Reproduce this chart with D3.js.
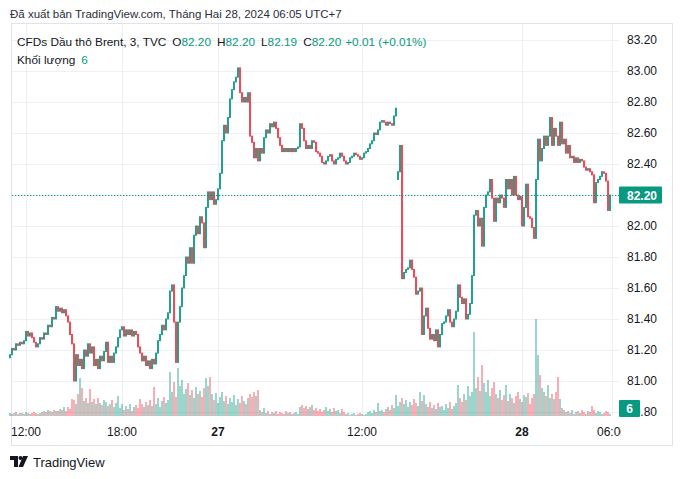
<!DOCTYPE html>
<html><head><meta charset="utf-8">
<script src="https://cdn.jsdelivr.net/npm/d3@7"></script>
<style>
body{margin:0;background:#fff}
svg{display:block;font-family:"Liberation Sans",Arial,sans-serif}
</style>
</head><body>
<svg id="c" width="682" height="479"></svg>
<script>
// ---- data (3-min Brent CFD, sampled) ----
const closes = [
81.17,81.21,81.20,81.24,81.23,81.25,81.24,81.26,81.32,81.29,81.31,81.28,81.25,81.22,81.24,81.28,81.27,
81.31,81.30,81.36,81.35,81.41,81.40,81.48,81.45,81.47,81.44,81.46,81.42,81.38,81.30,
81.24,81.00,81.17,81.10,81.14,81.08,81.20,81.16,81.24,81.18,81.22,81.10,81.14,81.08,81.16,
81.13,81.19,81.25,81.12,81.16,81.12,81.18,81.22,81.28,81.33,81.35,81.29,81.33,81.30,81.33,
81.29,81.32,81.30,81.22,81.18,81.13,81.16,81.10,81.13,81.08,81.14,81.11,81.18,81.26,81.30,
81.36,81.33,81.40,81.44,81.58,81.62,81.38,81.12,81.38,81.48,81.60,81.68,81.80,81.76,81.86,
81.76,81.94,82.00,81.95,82.06,82.02,81.86,82.12,82.22,82.17,82.22,82.14,82.17,82.24,82.34,
82.55,82.65,82.60,82.70,82.82,82.88,82.93,82.96,83.02,82.86,82.80,82.83,82.80,82.86,82.58,
82.54,82.44,82.50,82.42,82.50,82.47,82.57,82.62,82.60,82.66,82.64,82.67,82.63,82.57,82.52,
82.48,82.50,82.48,82.50,82.48,82.50,82.48,82.50,82.51,82.66,82.63,82.55,82.50,82.52,82.50,
82.55,82.54,82.48,82.47,82.45,82.41,82.40,82.42,82.45,82.46,82.42,82.40,82.43,82.44,82.47,
82.45,82.42,82.40,82.41,82.44,82.45,82.47,82.46,82.45,82.43,82.44,82.47,82.48,82.50,82.53,
82.55,82.60,82.59,82.62,82.67,82.68,82.67,82.65,82.67,82.66,82.65,82.71,82.76,82.35,82.52,
81.66,81.70,81.72,81.73,81.78,81.72,81.67,81.56,81.58,81.60,81.30,81.42,81.47,81.34,81.27,
81.30,81.26,81.33,81.22,81.30,81.37,81.38,81.42,81.46,81.38,81.35,81.40,81.45,81.62,81.54,
81.50,81.53,81.40,81.43,81.50,81.68,82.07,82.10,82.00,82.05,81.87,82.12,82.20,82.22,82.30,
82.18,82.03,82.18,82.15,82.20,82.18,82.12,82.30,82.24,82.30,82.20,82.32,82.20,82.17,82.19,
82.00,82.12,82.27,82.06,82.05,81.99,81.92,82.30,82.56,82.42,82.50,82.58,82.52,82.58,82.70,
82.52,82.63,82.58,82.52,82.67,82.53,82.56,82.47,82.52,82.44,82.45,82.41,82.44,82.41,82.43,
82.42,82.38,82.36,82.37,82.35,82.33,82.15,82.28,82.30,82.32,82.35,82.34,82.29,82.10,82.20
];
const firstOpen = 81.15;
const openOverrides = {194: 82.30}; // session restart after the break
const volumes = [
9,6,9,12,6,9,9,6,12,9,6,9,12,9,6,9,12,
15,12,18,15,12,18,15,15,21,18,27,15,27,21,
51,48,36,66,114,84,45,54,39,81,42,51,36,54,39,
33,48,42,30,36,48,27,39,60,24,36,18,30,21,36,
15,27,33,24,51,36,27,42,33,48,30,87,36,54,27,
45,57,39,48,132,72,102,57,144,90,108,66,81,99,63,
78,54,87,66,75,57,84,114,90,117,66,48,69,39,57,
72,45,60,36,54,42,63,33,51,39,60,45,36,54,66,
57,72,60,78,18,12,24,9,15,6,12,9,15,6,12,
9,6,15,9,12,6,9,12,6,27,33,24,30,21,27,
33,18,24,15,21,12,18,27,15,21,12,24,15,18,9,
21,12,6,9,3,6,9,3,6,9,6,3,6,12,15,
9,18,12,39,15,18,12,21,27,18,33,24,63,30,42,
54,36,48,27,42,33,51,39,30,72,45,63,36,27,42,
24,33,21,39,27,30,18,36,24,42,21,30,39,93,54,
42,66,48,90,60,72,252,84,117,75,153,99,72,108,60,
84,102,66,54,78,48,63,93,45,66,54,39,60,72,51,
42,63,57,69,36,54,66,291,183,123,84,72,60,93,54,
66,51,72,117,51,24,18,12,15,9,18,6,12,15,9,
18,12,6,15,12,30,18,9,15,12,6,9,15,12,6
];
const priceTicks = [83.2,83.0,82.8,82.6,82.4,82.2,82.0,81.8,81.6,81.4,81.2,81.0,80.8];
const timeTickLabels = ["12:00","18:00","27","12:00","28","06:00"];
const timeTickIndex = [8,56,104,176,256,301];
const timeTickBold = [false,false,true,false,true,false];
const lastPrice = 82.20, lastVolume = 6;
const legendValues = {O:"82.20",H:"82.20",L:"82.19",C:"82.20",chg:"+0.01 (+0.01%)"};

// ---- build ----
const UP="#089981", DN="#F23645", UPV="rgba(8,153,129,0.5)", DNV="rgba(242,54,69,0.5)";
const GRID="#eef0f4", TXT="#131722";
const svg=d3.select("#c");
const P={l:12,r:619,t:24,b:416};

const n=closes.length;
const candles=closes.map((c,i)=>{
  const o = openOverrides[i]!==undefined ? openOverrides[i] : (i===0?firstOpen:closes[i-1]);
  return {i,o,c,v:volumes[i]||0,up:c>=o};
});

const x=d3.scaleBand().domain(d3.range(n+2)).range([9,9+2*(n+2)]);
const y=d3.scaleLinear().domain([80.8,83.2]).range([412,40]);
const yv=d3.scaleLinear().domain([0,300]).range([P.b,P.b-100]);

// frame
svg.append("rect").attr("x",11.5).attr("y",23.5).attr("width",661).attr("height",422)
  .attr("fill","none").attr("stroke","#e0e3eb");

// grid
svg.append("g").selectAll("line").data(priceTicks).join("line")
  .attr("x1",P.l).attr("x2",P.r).attr("y1",d=>Math.round(y(d))+0.5).attr("y2",d=>Math.round(y(d))+0.5)
  .attr("stroke",GRID);
svg.append("g").selectAll("line").data(timeTickIndex).join("line")
  .attr("x1",d=>x(d)+1.5).attr("x2",d=>x(d)+1.5).attr("y1",P.t).attr("y2",P.b)
  .attr("stroke",GRID);

// volume
svg.append("g").selectAll("rect").data(candles).join("rect")
  .attr("x",d=>x(d.i)+0.2).attr("width",1.6)
  .attr("y",d=>yv(d.v)).attr("height",d=>P.b-yv(d.v))
  .attr("fill",d=>d.up?UPV:DNV);

// candles
svg.append("g").selectAll("rect").data(candles).join("rect")
  .attr("x",d=>x(d.i)+0.1).attr("width",1.8)
  .attr("y",d=>y(Math.max(d.o,d.c))-0.5)
  .attr("height",d=>Math.max(1.5,Math.abs(y(d.o)-y(d.c))+1))
  .attr("fill",d=>d.up?UP:DN);

// last price line
svg.append("line").attr("x1",P.l).attr("x2",P.r).attr("y1",y(lastPrice)+0.5).attr("y2",y(lastPrice)+0.5)
  .attr("stroke",UP).attr("stroke-width",1.2).attr("stroke-dasharray","1.3,1.7");

// price axis
const ay=svg.append("g").attr("transform",`translate(${P.r},0)`)
  .call(d3.axisRight(y).tickValues(priceTicks).tickFormat(d3.format(".2f")).tickSize(0).tickPadding(8));
ay.select(".domain").remove();
ay.selectAll("text").attr("fill",TXT).attr("font-size",12).attr("font-family","Liberation Sans, Arial, sans-serif");

// time axis
svg.append("clipPath").attr("id","tclip").append("rect").attr("x",0).attr("y",416).attr("width",621).attr("height",30);
const ax=svg.append("g").attr("clip-path","url(#tclip)").append("g").attr("transform",`translate(0,${P.b})`)
  .call(d3.axisBottom(x).tickValues(timeTickIndex).tickFormat((d,k)=>timeTickLabels[k]).tickSize(0).tickPadding(11));
ax.select(".domain").remove();
ax.selectAll("text").attr("fill",TXT).attr("font-size",12).attr("font-family","Liberation Sans, Arial, sans-serif")
  .attr("font-weight",(d,k)=>timeTickBold[k]?"bold":"normal");

// last price label
const lp=svg.append("g");
lp.append("rect").attr("x",619).attr("y",y(lastPrice)-8.5).attr("width",43).attr("height",17).attr("fill",UP).attr("rx",1);
lp.append("text").attr("x",627).attr("y",y(lastPrice)+4.5).attr("fill","#fff").attr("font-size",12).attr("font-weight","bold").text(d3.format(".2f")(lastPrice));
// last volume label
const lv=svg.append("g");
lv.append("rect").attr("x",619).attr("y",400).attr("width",21).attr("height",17).attr("fill",UP).attr("rx",1);
lv.append("text").attr("x",629.5).attr("y",413).attr("text-anchor","middle").attr("fill","#fff").attr("font-size",12).attr("font-weight","bold").text(lastVolume);

// header
svg.append("text").attr("x",10).attr("y",18).attr("fill","#2a2e39").attr("font-size",11.5)
  .text("Đã xuất bản TradingView.com, Tháng Hai 28, 2024 06:05 UTC+7");

// legend
const lg=svg.append("text").attr("x",17).attr("y",46).attr("font-size",11.8).attr("fill",TXT);
lg.append("tspan").text("CFDs Dầu thô Brent, 3, TVC");
[["O",legendValues.O],["H",legendValues.H],["L",legendValues.L],["C",legendValues.C]].forEach(([k,v])=>{
  lg.append("tspan").attr("dx",6).attr("fill",TXT).text(k);
  lg.append("tspan").attr("fill",UP).text(v);
});
lg.append("tspan").attr("dx",4).attr("fill",UP).text(legendValues.chg);
const lg2=svg.append("text").attr("x",17).attr("y",64).attr("font-size",11.8).attr("fill",TXT);
lg2.append("tspan").text("Khối lượng");
lg2.append("tspan").attr("dx",6).attr("fill",UP).text(lastVolume);

// footer logo
const logo=svg.append("g").attr("transform","translate(10,456)").attr("fill",TXT);
logo.append("path").attr("d","M0,0H8V11H4V4H0Z");
logo.append("circle").attr("cx",10.5).attr("cy",2).attr("r",2);
logo.append("path").attr("d","M13,0H18L13,11H8.5Z");
svg.append("text").attr("x",33).attr("y",467).attr("fill",TXT).attr("font-size",13).text("TradingView");
</script>
</body></html>
